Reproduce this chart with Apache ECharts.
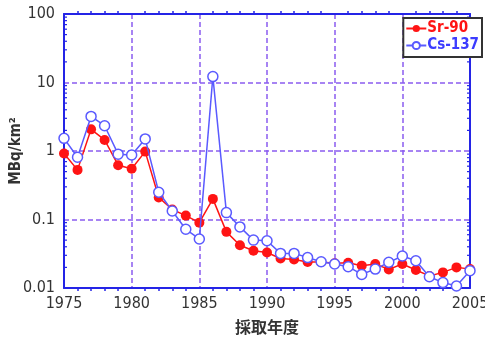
<!DOCTYPE html>
<html><head><meta charset="utf-8">
<script src="https://cdn.jsdelivr.net/npm/echarts@6/dist/echarts.min.js"></script>
<style>html,body{margin:0;padding:0;background:#fff}#c{width:485px;height:338px}</style>
</head><body><div id="c"></div>
<script>
const years = [1975,1976,1977,1978,1979,1980,1981,1982,1983,1984,1985,1986,1987,1988,1989,1990,1991,1992,1993,1994,1995,1996,1997,1998,1999,2000,2001,2002,2003,2004,2005];
const sr90 = [0.92,0.53,2.07,1.45,0.62,0.55,0.98,0.21,0.14,0.114,0.09,0.2,0.066,0.042,0.035,0.033,0.027,0.026,0.024,0.024,0.023,0.0234,0.0212,0.0224,0.0187,0.0224,0.0183,0.015,0.0169,0.02,0.0189];
const cs137 = [1.53,0.81,3.2,2.34,0.9,0.875,1.5,0.25,0.133,0.072,0.052,12.2,0.126,0.078,0.05,0.049,0.032,0.032,0.0278,0.0242,0.0224,0.0205,0.0158,0.0189,0.0237,0.0293,0.025,0.0146,0.0120,0.0107,0.0179];
const xTicks = [1975,1980,1985,1990,1995,2000,2005];
const yTicks = [0.01,0.1,1,10,100];
const yMinorTicks = [0.02,0.03,0.04,0.05,0.06,0.07,0.08,0.09,0.2,0.3,0.4,0.5,0.6,0.7,0.8,0.9,2,3,4,5,6,7,8,9,20,30,40,50,60,70,80,90];

const FONT = '"Liberation Sans Narrow","DejaVu Sans Condensed",sans-serif';
const AXIS = '#2424e6';
const GRIDC = '#8a5cf0';
const RED = '#ff1414';
const BLUE = '#5a5aff';

const chart = echarts.init(document.getElementById('c'));
const axisCommon = {
  axisLine:{show:true, lineStyle:{color:AXIS, width:2}},
  axisTick:{show:false},
  splitLine:{show:false}
};
chart.setOption({
  animation:false,
  grid:{left:64, right:15, top:14, bottom:50, outerBoundsMode:'none', containLabel:false},
  legend:{
    orient:'vertical', right:3, top:18,
    backgroundColor:'#fff', borderColor:'#333', borderWidth:2,
    padding:[3,3,4,2], itemGap:2, itemWidth:20, itemHeight:9,
    textStyle:{fontFamily:FONT, fontSize:15, fontWeight:'bold', padding:[0,0,0,-4]},
    data:[
      {name:'Sr-90', textStyle:{color:RED}},
      {name:'Cs-137', textStyle:{color:'#3c3cff'}}
    ]
  },
  xAxis:[
    Object.assign({}, axisCommon, {
      type:'value', min:1975, max:2005, interval:5,
      name:'採取年度', nameLocation:'middle', nameGap:31,
      nameTextStyle:{fontFamily:'"Noto Sans CJK JP",sans-serif', fontSize:16, fontWeight:'bold', color:'#333'},
      axisLabel:{fontFamily:FONT, fontSize:16, color:'#333', margin:8,
        formatter:v=>xTicks.includes(v)?String(v):''},
      minorTick:{show:true, splitNumber:5, length:3, lineStyle:{color:AXIS, width:1.5}},
      axisTick:{show:false},
      splitLine:{show:true, lineStyle:{color:GRIDC, width:1.5, type:[5,3]}}
    }),
    Object.assign({}, axisCommon, {
      type:'value', min:1975, max:2005, interval:5, position:'top',
      axisLabel:{show:false},
      minorTick:{show:true, splitNumber:5, length:3, lineStyle:{color:AXIS, width:1.5}}
    })
  ],
  yAxis:[
    Object.assign({}, axisCommon, {
      type:'log', logBase:10, min:0.01, max:100,
      name:'MBq/km²', nameLocation:'middle', nameGap:40, nameRotate:90, nameMoveOverlap:false,
      nameTextStyle:{fontFamily:FONT, fontSize:15, fontWeight:'bold', color:'#333'},
      axisLabel:{fontFamily:FONT, fontSize:16, color:'#333', margin:9,
        formatter:v=>{ const f = yTicks.find(t=>Math.abs(t-v)/t<1e-6); return f===undefined?'':String(f);} },
      splitLine:{show:true, lineStyle:{color:GRIDC, width:1.5, type:[5,3]}}
    }),
    Object.assign({}, axisCommon, {
      type:'log', logBase:10, min:0.01, max:100, position:'right',
      axisLabel:{show:false}
    })
  ],
  series:[
    {
      type:'custom', silent:true, xAxisIndex:0, yAxisIndex:0,
      data:yMinorTicks.map(v=>[1975,v]),
      renderItem:(params, api)=>{
        const p = api.coord([api.value(0), api.value(1)]);
        const cs = params.coordSys;
        const st = {stroke:AXIS, lineWidth:1.2};
        return {type:'group', children:[
          {type:'line', shape:{x1:cs.x, y1:p[1], x2:cs.x+3, y2:p[1]}, style:st},
          {type:'line', shape:{x1:cs.x+cs.width, y1:p[1], x2:cs.x+cs.width-3, y2:p[1]}, style:st}
        ]};
      },
      z:1
    },
    {
      name:'Sr-90', type:'line', xAxisIndex:0, yAxisIndex:0,
      data:years.map((y,i)=>[y, sr90[i]]),
      symbol:'circle', symbolSize:10,
      lineStyle:{color:RED, width:1.5},
      itemStyle:{color:RED, borderColor:RED, borderWidth:0},
      z:3
    },
    {
      name:'Cs-137', type:'line', xAxisIndex:0, yAxisIndex:0,
      data:years.map((y,i)=>[y, cs137[i]]),
      symbol:'circle', symbolSize:10,
      lineStyle:{color:BLUE, width:1.5},
      itemStyle:{color:'#fff', borderColor:BLUE, borderWidth:1.5},
      z:4
    }
  ]
});
</script></body></html>
